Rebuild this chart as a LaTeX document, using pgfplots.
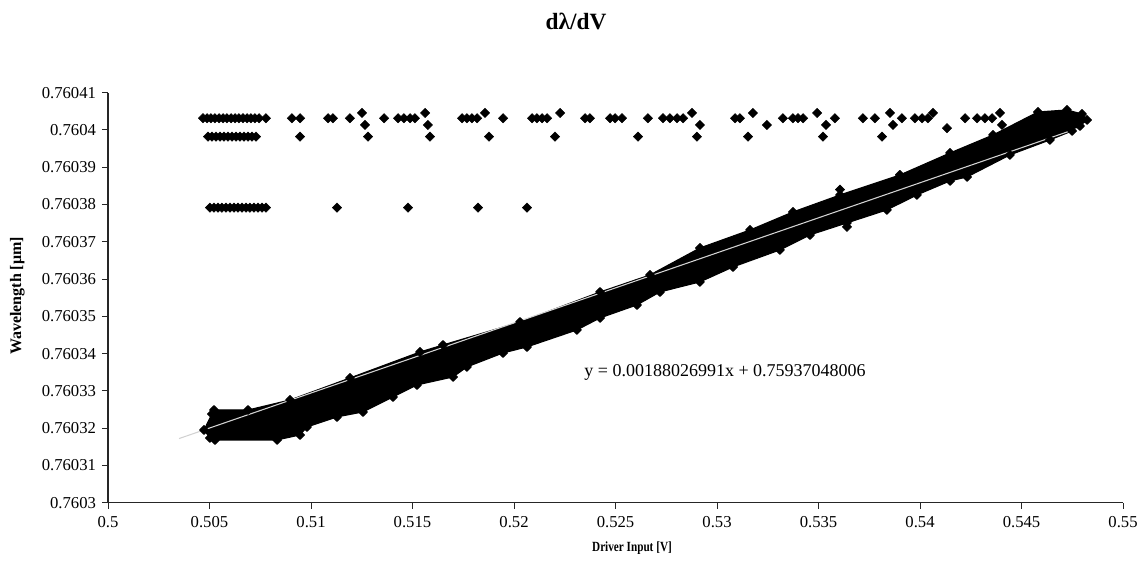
\documentclass[border=0pt]{standalone}
\usepackage{fontspec}
\setmainfont{Liberation Serif}
\usepackage{pgfplots}
\pgfplotsset{compat=1.18}
% wavelengths are written in full (0.7603xxxx um); the trafo splits off the leading 0.7603
% so that all digits survive (y is then in units of 1e-5 um above 0.7603)
\def\wlraw0.760#1#2#3\relax{\ifnum#1=3 \edef\pgfmathresult{#2.#3}\else\edef\pgfmathresult{1#2.#3}\fi}
\def\wlflt1Y7.60#1#2#3e#4\relax{\ifnum#1=3 \edef\pgfmathresult{#2.#3}\else\edef\pgfmathresult{1#2.#3}\fi}
\def\wlparse#1#2\relax{\ifx0#1\wlraw#1#2\relax\else\wlflt#1#2\relax\fi}
\begin{document}
\begin{tikzpicture}
\useasboundingbox (-81pt,-49pt) rectangle (775.5pt,377pt);
\begin{axis}[
  at={(0,0)}, anchor=south west,
  scale only axis, width=761.25pt, height=307.5pt,
  y coord trafo/.code={\edef\wltmp{#1}\expandafter\wlparse\wltmp\relax},
  xmin=0.5, xmax=0.55,
  ymin=0.760300001, ymax=0.760410001,
  axis x line=bottom, axis y line=left,
  axis line style={-, black!85, line width=0.8pt},
  tick align=outside, major tick length=4.5pt,
  tick style={black!85, line width=0.7pt},
  xtick={0.5,0.505,0.51,0.515,0.52,0.525,0.53,0.535,0.54,0.545,0.55},
  xticklabels={0.5,0.505,0.51,0.515,0.52,0.525,0.53,0.535,0.54,0.545,0.55},
  ytick={0.760300001,0.760310001,0.760320001,0.760330001,0.760340001,0.760350001,0.760360001,0.760370001,0.760380001,0.760390001,0.760400001,0.760410001},
  yticklabels={0.7603,0.76031,0.76032,0.76033,0.76034,0.76035,0.76036,0.76037,0.76038,0.76039,0.7604,0.76041},
  ticklabel style={font=\fontsize{12.5}{14}\selectfont},
  xticklabel style={yshift=-2pt},
  yticklabel style={xshift=-1pt},
]
% dense cloud of measured points (outline of the overlapping markers)
\addplot[draw=black, fill=black, line width=0.8pt, line join=round,
  mark=square*, mark size=2.3pt, mark options={rotate=45, fill=black, draw=black, solid}] coordinates {
(0.50473,0.76031951) (0.50512,0.76032380) (0.50522,0.76032487) (0.50690,0.76032487)
(0.50897,0.76032756) (0.51192,0.76033346) (0.51537,0.76034044) (0.51650,0.76034231)
(0.52030,0.76034848) (0.52424,0.76035653) (0.52670,0.76036110) (0.52916,0.76036834)
(0.53163,0.76037317) (0.53374,0.76037800) (0.53606,0.76038256) (0.53901,0.76038793)
(0.54148,0.76039383) (0.54360,0.76039866) (0.54581,0.76040483) (0.54724,0.76040537)
(0.54798,0.76040429) (0.54823,0.76040268)
(0.54788,0.76040107) (0.54749,0.76039973) (0.54640,0.76039732) (0.54443,0.76039329)
(0.54232,0.76038739) (0.54148,0.76038632) (0.53985,0.76038256) (0.53837,0.76037854)
(0.53640,0.76037505) (0.53458,0.76037183) (0.53310,0.76036780) (0.53079,0.76036324)
(0.52916,0.76035922) (0.52719,0.76035653) (0.52606,0.76035305) (0.52424,0.76034956)
(0.52310,0.76034634) (0.52064,0.76034178) (0.51946,0.76034017) (0.51768,0.76033641)
(0.51700,0.76033373) (0.51522,0.76033158) (0.51404,0.76032836) (0.51256,0.76032434)
(0.51128,0.76032300) (0.50980,0.76032031) (0.50946,0.76031817) (0.50833,0.76031682)
(0.50527,0.76031682) (0.50502,0.76031736)
} -- cycle;
% isolated points
\addplot[only marks, mark=square*, mark size=2.45pt, mark options={rotate=45, fill=black, draw=black}] table {
x y
0.50468 0.76040314
0.50488 0.76040314
0.50507 0.76040314
0.50527 0.76040314
0.50547 0.76040314
0.50567 0.76040314
0.50586 0.76040314
0.50606 0.76040314
0.50626 0.76040314
0.50645 0.76040314
0.50665 0.76040314
0.50685 0.76040314
0.50704 0.76040314
0.50724 0.76040314
0.50744 0.76040314
0.50778 0.76040314
0.50906 0.76040314
0.50946 0.76040314
0.51084 0.76040314
0.51108 0.76040314
0.51192 0.76040314
0.51251 0.76040456
0.51266 0.76040134
0.51360 0.76040314
0.51429 0.76040314
0.51458 0.76040314
0.51488 0.76040314
0.51512 0.76040314
0.51562 0.76040456
0.51576 0.76040134
0.51744 0.76040314
0.51768 0.76040314
0.51793 0.76040314
0.51818 0.76040314
0.51857 0.76040456
0.51946 0.76040314
0.52089 0.76040314
0.52113 0.76040314
0.52138 0.76040314
0.52163 0.76040314
0.52227 0.76040456
0.52350 0.76040314
0.52374 0.76040314
0.52473 0.76040314
0.52498 0.76040314
0.52532 0.76040314
0.52660 0.76040314
0.52734 0.76040314
0.52768 0.76040314
0.52803 0.76040314
0.52833 0.76040314
0.52877 0.76040456
0.52916 0.76040134
0.53089 0.76040314
0.53113 0.76040314
0.53177 0.76040456
0.53246 0.76040134
0.53325 0.76040314
0.53374 0.76040314
0.53399 0.76040314
0.53424 0.76040314
0.53493 0.76040456
0.53537 0.76040134
0.53581 0.76040314
0.53719 0.76040314
0.53778 0.76040314
0.53852 0.76040456
0.53867 0.76040134
0.53911 0.76040314
0.53975 0.76040314
0.54010 0.76040314
0.54039 0.76040314
0.54064 0.76040456
0.54133 0.76040046
0.54222 0.76040314
0.54281 0.76040314
0.54320 0.76040314
0.54355 0.76040314
0.54394 0.76040456
0.54404 0.76040134
0.50493 0.76039820
0.50512 0.76039820
0.50532 0.76039820
0.50552 0.76039820
0.50571 0.76039820
0.50591 0.76039820
0.50611 0.76039820
0.50631 0.76039820
0.50650 0.76039820
0.50670 0.76039820
0.50690 0.76039820
0.50709 0.76039820
0.50729 0.76039820
0.50946 0.76039820
0.51281 0.76039820
0.51586 0.76039820
0.51877 0.76039820
0.52202 0.76039820
0.52611 0.76039820
0.52901 0.76039820
0.53153 0.76039820
0.53522 0.76039820
0.53813 0.76039820
0.50502 0.76037915
0.50522 0.76037915
0.50542 0.76037915
0.50561 0.76037915
0.50581 0.76037915
0.50601 0.76037915
0.50621 0.76037915
0.50640 0.76037915
0.50660 0.76037915
0.50680 0.76037915
0.50699 0.76037915
0.50719 0.76037915
0.50739 0.76037915
0.50759 0.76037915
0.50778 0.76037915
0.51128 0.76037915
0.51478 0.76037915
0.51823 0.76037915
0.52064 0.76037915
0.53640 0.76037400
0.53606 0.76038400
};
% linear trendline y = 0.00188026991x + 0.75937048006
\addplot[gray!35, line width=0.8pt] coordinates {(0.5035,0.76031720) (0.5478,0.76040049)};
\end{axis}
\node[font=\fontsize{17.5}{19}\selectfont\bfseries] at (351pt,361pt) {dλ/dV};
\node[rotate=90, font=\fontsize{12}{14}\selectfont\bfseries] at (-68pt,155pt) {Wavelength [μm]};
\node[font=\fontsize{10.5}{12}\selectfont\bfseries] at (393pt,-34pt) {\scalebox{0.8}[1]{Driver Input [V]}};
\node[font=\fontsize{13.5}{15}\selectfont] at (462.75pt,97.3pt) {y = 0.00188026991x + 0.75937048006};
\end{tikzpicture}
\end{document}
